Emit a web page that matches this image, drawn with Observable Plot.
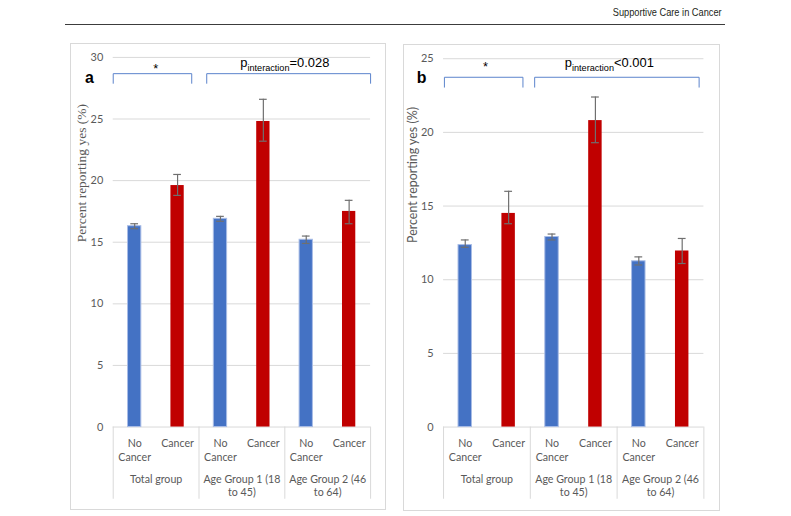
<!DOCTYPE html>
<html>
<head>
<meta charset="utf-8">
<script src="https://cdn.jsdelivr.net/npm/d3@7"></script>
<script src="https://cdn.jsdelivr.net/npm/@observablehq/plot@0.6"></script>
<style>
  html, body { margin: 0; padding: 0; background: #fff; }
  #page { position: relative; width: 791px; height: 516px; overflow: hidden; background: #fff; }
  #journal { position: absolute; right: 69px; top: 6px; font-family: "Liberation Sans", Arial, sans-serif; font-size: 11px; color: #231f20; transform: scaleX(0.84); transform-origin: right center; white-space: nowrap; }
  #rule { position: absolute; left: 65px; top: 24px; width: 660px; height: 0; border-top: 1.6px solid #3c3c3c; }
  .panel { position: absolute; box-sizing: border-box; border: 1px solid #d9d9d9; }
  .panel svg { position: absolute; left: -1px; top: -1px; overflow: visible; }
</style>
</head>
<body>
<div id="page">
  <div id="journal">Supportive Care in Cancer</div>
  <div id="rule"></div>
  <div class="panel" id="pa" style="left:70px; top:43px; width:316px; height:467px;"></div>
  <div class="panel" id="pb" style="left:403px; top:44px; width:317px; height:467px;"></div>
</div>
<script>
// ---- data ----
const groups = ["Total group", "Age Group 1 (18\nto 45)", "Age Group 2 (46\nto 64)"];
const statuses = ["No\nCancer", "Cancer"];

// Panel a
const valuesA = [16.3, 19.6, 16.9, 24.8, 15.2, 17.5];
const lowA    = [16.1, 18.8, 16.7, 23.2, 14.9, 16.5];
const highA   = [16.5, 20.5, 17.1, 26.6, 15.5, 18.4];
const ticksA  = [0, 5, 10, 15, 20, 25, 30];
const pTextA  = "p_interaction_=0.028";

// Panel b
const valuesB = [12.35, 14.5, 12.9, 20.8, 11.25, 11.95];
const lowB    = [12.2, 13.8, 12.7, 19.3, 11.0, 11.1];
const highB   = [12.7, 16.0, 13.1, 22.4, 11.55, 12.8];
const ticksB  = [0, 5, 10, 15, 20, 25];
const pTextB  = "p_interaction_<0.001";

const yTitle = "Percent reporting yes (%)";
const blue = "#4472C4", red = "#C00000";

function makePanel(cfg) {
  const rows = cfg.values.map((v, i) => ({
    i, v, lo: cfg.low[i], hi: cfg.high[i],
    status: statuses[i % 2], cancer: i % 2 === 1
  }));
  const gRows = groups.map((g, k) => ({ k, g }));
  const bw = 0.155, cap = 0.09;
  const plot = Plot.plot({
    width: cfg.width, height: cfg.height,
    marginLeft: cfg.ml, marginRight: cfg.mr, marginTop: cfg.mt, marginBottom: cfg.mb,
    x: { domain: [0, 6], axis: null },
    y: { domain: [0, cfg.yMax], axis: null },
    style: { fontFamily: "Lato, 'Open Sans', sans-serif", fontSize: "11px", color: "#595959", background: "transparent", overflow: "visible" },
    marks: [
      Plot.ruleY(cfg.ticks, { stroke: "#d9d9d9", strokeWidth: 1 }),
      Plot.axisY(cfg.ticks, { tickSize: 0, tickPadding: cfg.tickPad, fontSize: 11, fill: "#595959", label: null }),
      Plot.ruleX([0, 2, 4, 6], { y1: 0, y2: cfg.divBottom, stroke: "#d9d9d9" }),
      Plot.rectY(rows.filter(d => !d.cancer), { x1: d => d.i + 0.5 - bw, x2: d => d.i + 0.5 + bw, y1: 0, y2: "v", fill: blue, stroke: "#a8bce6", strokeWidth: 1 }),
      Plot.rectY(rows.filter(d => d.cancer), { x1: d => d.i + 0.5 - bw, x2: d => d.i + 0.5 + bw, y1: 0, y2: "v", fill: red }),
      Plot.ruleX(rows, { x: d => d.i + 0.5, y1: "lo", y2: "hi", stroke: "#6f6f6f", strokeWidth: 1.2 }),
      Plot.ruleY(rows, { y: "hi", x1: d => d.i + 0.5 - cap, x2: d => d.i + 0.5 + cap, stroke: "#6f6f6f", strokeWidth: 1.2 }),
      Plot.ruleY(rows, { y: "lo", x1: d => d.i + 0.5 - cap, x2: d => d.i + 0.5 + cap, stroke: "#6f6f6f", strokeWidth: 1.2 }),
      Plot.text(rows, { x: d => d.i + 0.5, y: 0, text: "status", dy: 10, lineAnchor: "top", lineHeight: 1.3, fill: "#595959", fontSize: 10.7 }),
      Plot.text(gRows, { x: d => 2 * d.k + 1, y: 0, text: "g", dy: 47, lineAnchor: "top", lineHeight: 1.25, fill: "#595959", fontSize: 10.7 }),
      Plot.text([yTitle], { frameAnchor: "left", text: d => d, rotate: -90, dx: cfg.titleDx, fontFamily: cfg.titleFont, fontSize: cfg.titleSize, fill: "#595959" }),
      Plot.text([cfg.letter], { frameAnchor: "top-left", text: d => d, textAnchor: "middle", lineAnchor: "middle", dx: cfg.letterDx, dy: cfg.letterDy, fontFamily: "'Liberation Sans', Arial, sans-serif", fontWeight: "bold", fontSize: 16, fill: "#000" }),
      // significance brackets
      ...cfg.brackets.map(b => Plot.line([
        { x: b[0], y: cfg.bLow }, { x: b[0], y: cfg.bHigh }, { x: b[1], y: cfg.bHigh }, { x: b[1], y: cfg.bLow }
      ], { x: "x", y: "y", stroke: "#5b83cc", strokeWidth: 1 })),
      Plot.text(["*"], { x: cfg.star[0], y: cfg.star[1], text: d => d, fontFamily: "'Liberation Sans', Arial, sans-serif", fontSize: 13, fill: "#000" }),
      Plot.text([cfg.pText], { x: cfg.pPos[0], y: cfg.pPos[1], text: d => d, fontFamily: "'Liberation Sans', Arial, sans-serif", fontSize: 13, fill: "#000" })
    ]
  });
  // subscript formatting for the p-value label
  d3.select(plot).selectAll("text").each(function () {
    const el = d3.select(this);
    const t = el.text();
    if (el.selectAll("tspan").size() === 0 && t.includes("_")) {
      const parts = t.split("_");
      el.text(null);
      el.append("tspan").text(parts[0]);
      el.append("tspan").attr("font-size", 9.2).attr("dy", 4).text(parts[1]);
      el.append("tspan").attr("dy", -4).text(parts[2]);
    }
  });
  return plot;
}

document.getElementById("pa").appendChild(makePanel({
  values: valuesA, low: lowA, high: highA, ticks: ticksA, yMax: 30,
  width: 316, height: 467, ml: 43, mr: 14, mt: 14, mb: 81,
  tickPad: 10, divBottom: -5.86,
  titleDx: -32, titleFont: "'Liberation Serif', 'Times New Roman', serif", titleSize: 13.6,
  letter: "a", letterDx: -24, letterDy: 21,
  brackets: [[0, 1.83], [2.18, 6.0]], bLow: 27.9, bHigh: 28.68,
  star: [0.99, 29.1], pText: pTextA, pPos: [4.0, 29.55]
}));
document.getElementById("pb").appendChild(makePanel({
  values: valuesB, low: lowB, high: highB, ticks: ticksB, yMax: 25,
  width: 317, height: 467, ml: 40.3, mr: 14.7, mt: 14.3, mb: 82,
  tickPad: 10, divBottom: -4.9,
  titleDx: -31, titleFont: "Lato, 'Open Sans', sans-serif", titleSize: 12.5,
  letter: "b", letterDx: -22, letterDy: 19,
  brackets: [[0.02, 1.83], [2.1, 5.89]], bLow: 23.07, bHigh: 23.74,
  star: [0.97, 24.45], pText: pTextB, pPos: [3.82, 24.7]
}));
</script>
</body>
</html>
